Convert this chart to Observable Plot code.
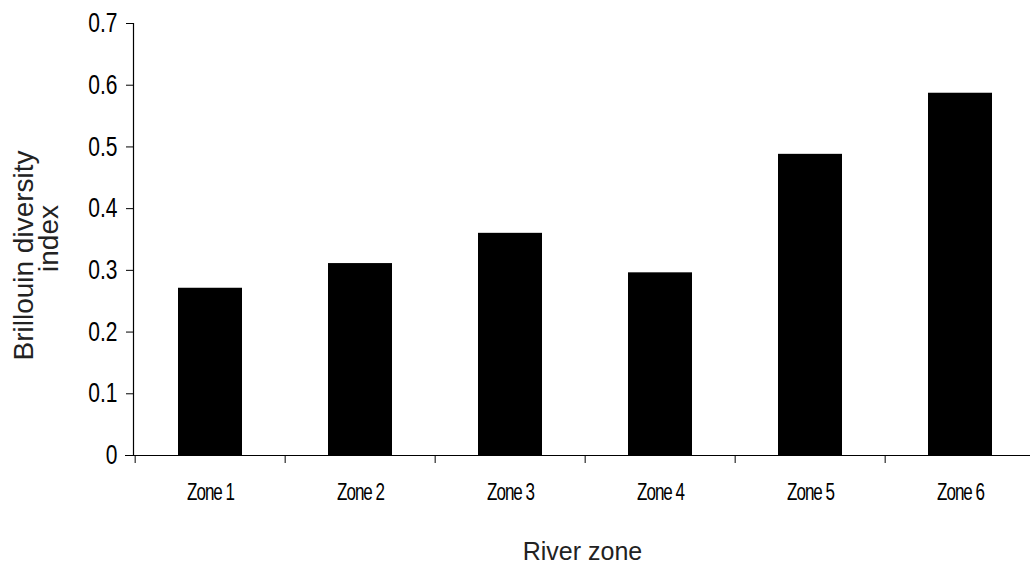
<!DOCTYPE html>
<html>
<head>
<meta charset="utf-8">
<script src="https://cdn.jsdelivr.net/npm/d3@7"></script>
<script src="https://cdn.jsdelivr.net/npm/@observablehq/plot@0.6"></script>
<style>
  html, body { margin: 0; padding: 0; background: #fff; overflow: hidden; }
</style>
</head>
<body>
<div id="chart"></div>
<script>
// ---- data ----
const zones = ["Zone 1", "Zone 2", "Zone 3", "Zone 4", "Zone 5", "Zone 6"];
const values = [0.271, 0.311, 0.360, 0.296, 0.488, 0.587];
const yTicks = [0, 0.1, 0.2, 0.3, 0.4, 0.5, 0.6, 0.7];
const yTitleLine1 = "Brillouin diversity";
const yTitleLine2 = "index";
const xTitle = "River zone";

const data = zones.map((zone, i) => ({zone, value: values[i]}));

// ---- layout ----
const W = 1030, H = 565;
const mL = 133, mR = -7, mT = 23, mB = 110;
const halfStep = (W - mL - mR) / zones.length / 2;

const chart = Plot.plot({
  width: W,
  height: H,
  marginLeft: mL,
  marginRight: mR,
  marginTop: mT,
  marginBottom: mB,
  style: {fontFamily: "'Liberation Sans', Arial, sans-serif", background: "#fff", color: "#000"},
  x: {domain: zones, paddingInner: 0.575, paddingOuter: 0.2875, label: null},
  y: {domain: [0, 0.7], label: null},
  marks: [
    Plot.barY(data, {x: "zone", y: "value", fill: "#000"}),
    Plot.frame({anchor: "left", stroke: "#000", strokeWidth: 1.2}),
    Plot.ruleY([0], {stroke: "#000", strokeWidth: 1.2, insetLeft: -8}),
    Plot.axisY({ticks: yTicks, tickSize: 7, tickPadding: 9, fontSize: 21,
      tickFormat: d => d === 0 ? "0" : d.toFixed(1), label: null}),
    Plot.axisX({tickSize: 8, tickFormat: () => "", dx: -halfStep, label: null}),
    Plot.axisX({tickSize: 0, tickPadding: 28, fontSize: 17, label: null}),
    Plot.text([yTitleLine1], {text: d => d, frameAnchor: "left", textAnchor: "middle", lineAnchor: "middle",
      rotate: -90, dx: -109, dy: 16, fontSize: 28, fill: "#222"}),
    Plot.text([yTitleLine2], {text: d => d, frameAnchor: "left", textAnchor: "middle", lineAnchor: "middle",
      rotate: -90, dx: -84, dy: -1, fontSize: 28, fill: "#222"}),
    Plot.text([xTitle], {text: d => d, frameAnchor: "bottom", textAnchor: "middle", lineAnchor: "middle",
      dx: -3, dy: 96, fontSize: 25, fill: "#222"})
  ]
});

document.getElementById("chart").appendChild(chart);

// vertically stretch tick labels like the reference
chart.querySelectorAll("g[aria-label='y-axis tick label'] text").forEach(t => {
  const tr = t.getAttribute("transform");
  t.setAttribute("transform", (tr || "") + " scale(1,1.28)");
});
chart.querySelectorAll("g[aria-label='x-axis tick label'] text").forEach(t => {
  if (t.textContent !== "") {
    const tr = t.getAttribute("transform");
    t.setAttribute("transform", (tr || "") + " scale(1,1.4)");
    t.style.letterSpacing = "-1px";
  }
});
</script>
</body>
</html>
